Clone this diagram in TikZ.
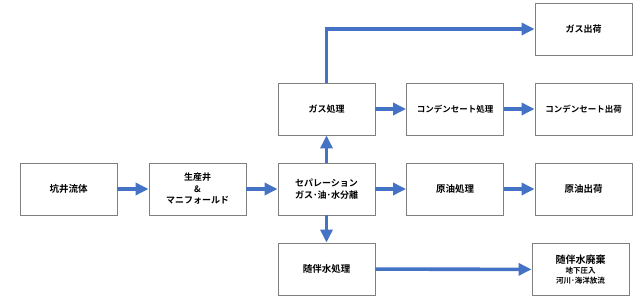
\documentclass[tikz,border=0pt]{standalone}
\usepackage{fontspec}
\setmainfont{Noto Sans CJK JP}[BoldFont={Noto Sans CJK JP Bold}]
\usetikzlibrary{arrows.meta}
\definecolor{arrowblue}{HTML}{4472C4}
\definecolor{boxgray}{HTML}{7F7F7F}
\tikzset{
  pbox/.style={draw=boxgray, line width=0.9pt, minimum width=97pt, minimum height=52pt, inner sep=1pt, align=center, font=\fontsize{9}{12}\selectfont\bfseries},
  flow/.style={draw=arrowblue, line width=3.6pt, line join=miter, -{Triangle[length=13pt,width=12pt]}}
}
\begin{document}
\begin{tikzpicture}[x=1pt,y=-1pt]
\useasboundingbox (0,0) rectangle (640,304);
\node[pbox, font=\fontsize{9.5}{12}\selectfont\bfseries] (kf) at (68.5,189) {坑井流体};
\node[pbox, font=\fontsize{9}{11.5}\selectfont\bfseries] (sw) at (197.5,189) {生産井\\\&\\マニフォールド};
\node[pbox] (sp) at (326.5,189) {セパレーション\\ガス･油･水分離};
\node[pbox] (gp) at (326.5,109) {ガス処理};
\node[pbox, font=\fontsize{8.5}{12}\selectfont\bfseries] (cp) at (455,109) {コンデンセート処理};
\node[pbox, font=\fontsize{8.5}{12}\selectfont\bfseries] (cs) at (583.5,109) {コンデンセート出荷};
\node[pbox] (gs) at (583.5,29) {ガス出荷};
\node[pbox, font=\fontsize{9.5}{12}\selectfont\bfseries] (op) at (455,189) {原油処理};
\node[pbox, font=\fontsize{9.5}{12}\selectfont\bfseries] (os) at (583.5,189) {原油出荷};
\node[pbox, font=\fontsize{9.5}{12}\selectfont\bfseries] (wp) at (326.5,269) {随伴水処理};
\node[pbox, font=\fontsize{7.5}{10}\selectfont\bfseries] (wd) at (580.5,269.5) {{\fontsize{10}{10}\selectfont 随伴水廃棄}\\地下圧入\\河川･海洋放流};
\draw[flow] (kf) -- (sw);
\draw[flow] (sw) -- (sp);
\draw[flow] (sp) -- (op);
\draw[flow] (op) -- (os);
\draw[flow] (sp) -- (gp);
\draw[flow] (sp) -- (wp);
\draw[flow] (gp) -- (cp);
\draw[flow] (cp) -- (cs);
\draw[flow] (gp.north) |- (gs.west);
\draw[flow] (wp) -- (wd);
\end{tikzpicture}
\end{document}
